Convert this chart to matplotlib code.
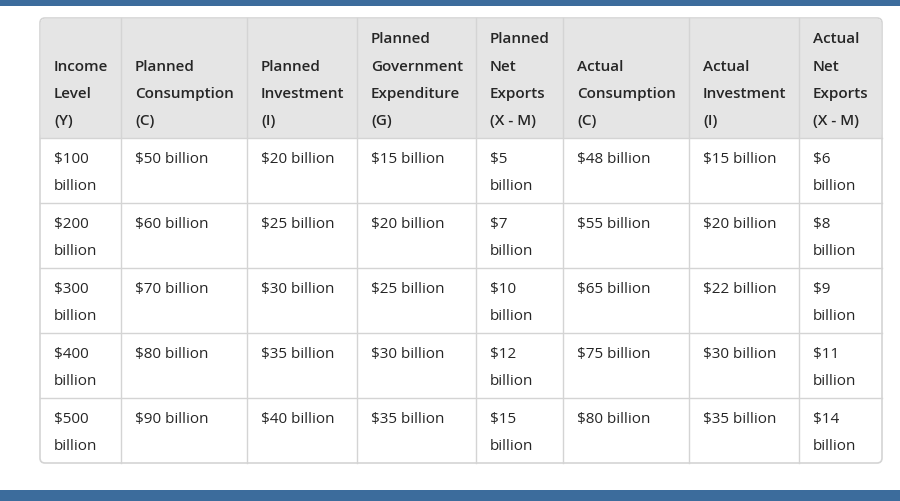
import matplotlib
matplotlib.use("Agg")
import matplotlib.pyplot as plt
from matplotlib.patches import FancyBboxPatch, Rectangle

headers = [
    ["Income", "Level", "(Y)"],
    ["Planned", "Consumption", "(C)"],
    ["Planned", "Investment", "(I)"],
    ["Planned", "Government", "Expenditure", "(G)"],
    ["Planned", "Net", "Exports", "(X - M)"],
    ["Actual", "Consumption", "(C)"],
    ["Actual", "Investment", "(I)"],
    ["Actual", "Net", "Exports", "(X - M)"],
]
income = ["$100\nbillion", "$200\nbillion", "$300\nbillion", "$400\nbillion", "$500\nbillion"]
planned_c = ["$50 billion", "$60 billion", "$70 billion", "$80 billion", "$90 billion"]
planned_i = ["$20 billion", "$25 billion", "$30 billion", "$35 billion", "$40 billion"]
planned_g = ["$15 billion", "$20 billion", "$25 billion", "$30 billion", "$35 billion"]
planned_nx = ["$5\nbillion", "$7\nbillion", "$10\nbillion", "$12\nbillion", "$15\nbillion"]
actual_c = ["$48 billion", "$55 billion", "$65 billion", "$75 billion", "$80 billion"]
actual_i = ["$15 billion", "$20 billion", "$22 billion", "$30 billion", "$35 billion"]
actual_nx = ["$6\nbillion", "$8\nbillion", "$9\nbillion", "$11\nbillion", "$14\nbillion"]

columns = [income, planned_c, planned_i, planned_g, planned_nx, actual_c, actual_i, actual_nx]

col_edges = [40, 121, 247, 357, 476, 563, 689, 799, 882]
table_top, header_bottom, row_h = 19, 139, 65
n_rows = 5
table_bottom = header_bottom + row_h * n_rows
line_h = 27.4

fig = plt.figure(figsize=(9, 5.02), dpi=100)
ax = fig.add_axes([0, 0, 1, 1])
ax.set_xlim(0, 900)
ax.set_ylim(502, 0)
ax.axis("off")

font = ["Open Sans", "DejaVu Sans"]
txt_color = "#262626"
border = "#d4d4d4"

# blue bars
ax.add_patch(Rectangle((0, 0), 900, 6.5, color="#3c6c9c", lw=0))
ax.add_patch(Rectangle((0, 491), 900, 11, color="#3c6c9c", lw=0))

# table frame and header background with rounded corners
ax.add_patch(FancyBboxPatch((col_edges[0], table_top), col_edges[-1] - col_edges[0],
                            table_bottom - table_top,
                            boxstyle="round,pad=0,rounding_size=5",
                            fc="white", ec=border, lw=1.2, zorder=1))
ax.add_patch(FancyBboxPatch((col_edges[0] + 0.6, table_top + 0.6), col_edges[-1] - col_edges[0] - 1.2,
                            header_bottom - table_top - 0.6,
                            boxstyle="round,pad=0,rounding_size=5",
                            fc="#e5e5e5", ec="none", zorder=1.1))
ax.add_patch(Rectangle((col_edges[0] + 0.6, header_bottom - 10), col_edges[-1] - col_edges[0] - 1.2, 10,
                       fc="#e5e5e5", ec="none", zorder=1.2))

# grid lines
for x in col_edges[1:-1]:
    ax.plot([x, x], [table_top, table_bottom], color=border, lw=1.0, zorder=2)
for r in range(n_rows):
    y = header_bottom + r * row_h
    ax.plot([col_edges[0], col_edges[-1]], [y, y], color=border, lw=1.0, zorder=2)

# header text (bottom aligned)
for j, lines in enumerate(headers):
    x = col_edges[j] + 14
    n = len(lines)
    for k, s in enumerate(lines):
        y = header_bottom - 17.5 - (n - 1 - k) * line_h
        ax.text(x, y, s, ha="left", va="center", fontsize=11, fontweight="semibold",
                color=txt_color, family=font, zorder=3)

# body text
for j, col in enumerate(columns):
    x = col_edges[j] + 14
    for r, val in enumerate(col):
        for k, s in enumerate(val.split("\n")):
            y = header_bottom + r * row_h + 20.5 + k * line_h
            ax.text(x, y, s, ha="left", va="center", fontsize=11,
                    color=txt_color, family=font, zorder=3)

fig.savefig("out.png", dpi=100)
